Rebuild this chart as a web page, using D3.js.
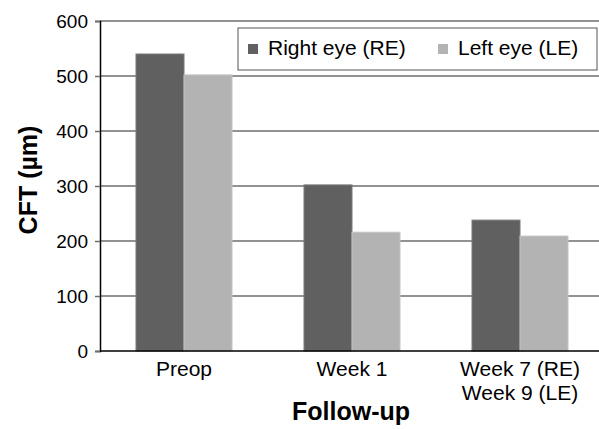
<!DOCTYPE html>
<html>
<head>
<meta charset="utf-8">
<script src="https://cdn.jsdelivr.net/npm/d3@7"></script>
<style>
  body { margin: 0; background: #fff; }
  text { font-family: "Liberation Sans", Arial, sans-serif; }
</style>
</head>
<body>
<div id="chart"></div>
<script>
const WIDTH = 599;
const HEIGHT = 429;
// the plot area runs a little past the right edge of the picture
const MARGIN = { left: 100, top: 21, right: -5, bottom: 78 };

// data
const categories = ["Preop", "Week 1", "Week 7 (RE)\nWeek 9 (LE)"];
const series = ["Right eye (RE)", "Left eye (LE)"];
const rightEye = [540, 302, 238];
const leftEye = [502, 216, 209];
const yTicks = [0, 100, 200, 300, 400, 500, 600];
const colors = ["#606060", "#b3b3b3"];

const innerW = WIDTH - MARGIN.left - MARGIN.right;
const innerH = HEIGHT - MARGIN.top - MARGIN.bottom;

const svg = d3.select("#chart").append("svg")
  .attr("width", WIDTH)
  .attr("height", HEIGHT);

const g = svg.append("g")
  .attr("transform", `translate(${MARGIN.left}, ${MARGIN.top})`);

const x = d3.scaleBand().domain(categories).range([0, innerW]);
const x1 = d3.scaleBand().domain(series).range([0, 96]);
const y = d3.scaleLinear().domain([0, 600]).range([innerH, 0]);

// gridlines
g.selectAll(".grid")
  .data(yTicks.filter(d => d > 0))
  .enter()
  .append("line")
  .attr("x1", 0)
  .attr("x2", innerW)
  .attr("y1", d => y(d))
  .attr("y2", d => y(d))
  .attr("stroke", "#6e6e6e")
  .attr("stroke-width", 1.5);

// bars
const rows = categories.map((c, i) => ({ cat: c, vals: [rightEye[i], leftEye[i]] }));
const groups = g.selectAll(".grp")
  .data(rows)
  .enter()
  .append("g")
  .attr("transform", d => `translate(${x(d.cat) + x.bandwidth() / 2 - 48}, 0)`);

groups.selectAll("rect")
  .data(d => d.vals.map((v, j) => ({ s: series[j], v: v, j: j })))
  .enter()
  .append("rect")
  .attr("x", d => x1(d.s))
  .attr("y", d => y(d.v))
  .attr("width", x1.bandwidth())
  .attr("height", d => innerH - y(d.v))
  .attr("fill", d => colors[d.j])
  .attr("stroke", d => d.j === 0 ? "#7a7a7a" : "#c4c4c4")
  .attr("stroke-width", 1);

// y axis
const yAxis = d3.axisLeft(y).tickValues(yTicks).tickSize(5).tickPadding(7);
const yg = g.append("g").call(yAxis);
yg.select(".domain").attr("stroke", "#000").attr("stroke-width", 1.5);
yg.selectAll(".tick line").attr("stroke", "#6e6e6e").attr("stroke-width", 1.5);
yg.selectAll(".tick text").attr("font-size", 19).attr("fill", "#000")
  .attr("font-family", "Liberation Sans, Arial, sans-serif");

// x axis line
g.append("line")
  .attr("x1", 0).attr("x2", innerW)
  .attr("y1", innerH).attr("y2", innerH)
  .attr("stroke", "#000").attr("stroke-width", 1.5);

// x labels (multi-line)
const xl = g.selectAll(".xlab")
  .data(categories)
  .enter()
  .append("text")
  .attr("text-anchor", "middle")
  .attr("font-size", 21)
  .attr("fill", "#000")
  .attr("transform", d => `translate(${x(d) + x.bandwidth() / 2}, ${innerH + 25})`);
xl.selectAll("tspan")
  .data(d => d.split("\n"))
  .enter()
  .append("tspan")
  .attr("x", 0)
  .attr("dy", (d, i) => i === 0 ? 0 : 24)
  .text(d => d);

// axis titles
svg.append("text")
  .attr("x", 351)
  .attr("y", 420)
  .attr("text-anchor", "middle")
  .attr("font-size", 25)
  .attr("font-weight", "bold")
  .text("Follow-up");

svg.append("text")
  .attr("transform", "translate(37, 180) rotate(-90)")
  .attr("text-anchor", "middle")
  .attr("font-size", 25)
  .attr("font-weight", "bold")
  .text("CFT (µm)");

// legend
const legend = svg.append("g").attr("transform", "translate(238, 28)");
legend.append("rect")
  .attr("width", 359)
  .attr("height", 42)
  .attr("fill", "#fff")
  .attr("stroke", "#555")
  .attr("stroke-width", 1);

const legendX = [10, 200];
series.forEach((s, i) => {
  legend.append("rect")
    .attr("x", legendX[i])
    .attr("y", 16)
    .attr("width", 10)
    .attr("height", 10)
    .attr("fill", colors[i]);
  legend.append("text")
    .attr("x", legendX[i] + 20)
    .attr("y", 27)
    .attr("font-size", 21)
    .attr("fill", "#000")
    .text(s);
});
</script>
</body>
</html>
